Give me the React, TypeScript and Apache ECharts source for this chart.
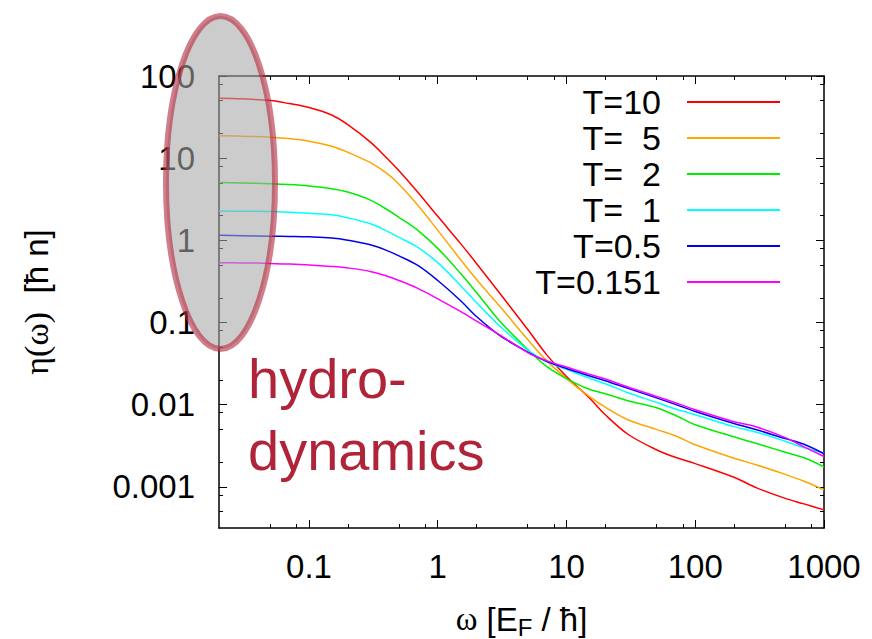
import React, { useEffect, useRef } from 'react';
import * as echarts from 'echarts';

// frequency omega [E_F / hbar]
const omega = [0.02, 0.03, 0.05, 0.07, 0.1, 0.15, 0.2, 0.3, 0.4, 0.5, 0.7, 1, 1.5, 2, 3, 5, 7, 10, 15, 20, 30, 50, 70, 100, 200, 300, 500, 700, 1000];

// viscosity eta(omega) [hbar n] for each temperature
const etaT10 = [53.5, 52.7, 50.3, 46.2, 41.3, 33.5, 25.6, 15.7, 10.14, 7.04, 3.85, 1.96, 0.919, 0.524, 0.232, 0.0821, 0.0407, 0.02195, 0.01217, 0.00755, 0.00437, 0.00283, 0.00229, 0.00192, 0.00131, 0.000972, 0.000724, 0.000621, 0.000525];
const etaT5 = [18.7, 18.55, 18.0, 17.3, 16.1, 14.0, 11.8, 8.81, 6.56, 4.82, 2.67, 1.324, 0.586, 0.334, 0.161, 0.0621, 0.0344, 0.0208, 0.01262, 0.00933, 0.00656, 0.00501, 0.00419, 0.00325, 0.00223, 0.00185, 0.00142, 0.00117, 0.000919];
const etaT2 = [5.05, 5.0, 4.89, 4.78, 4.59, 4.25, 3.87, 3.09, 2.39, 1.908, 1.324, 0.799, 0.398, 0.232, 0.106, 0.0469, 0.0293, 0.0208, 0.01542, 0.01362, 0.01119, 0.00919, 0.00743, 0.0057, 0.00407, 0.00337, 0.00264, 0.00226, 0.00175];
const etaT1 = [2.28, 2.26, 2.24, 2.195, 2.13, 2.05, 1.88, 1.589, 1.306, 1.088, 0.822, 0.535, 0.283, 0.175, 0.0919, 0.0462, 0.0334, 0.0269, 0.0211, 0.018, 0.014, 0.01067, 0.00887, 0.00755, 0.00541, 0.00462, 0.00359, 0.00299, 0.00258];
const etaT05 = [1.151, 1.141, 1.125, 1.116, 1.103, 1.07, 1.006, 0.882, 0.755, 0.647, 0.496, 0.325, 0.1855, 0.1183, 0.0704, 0.0437, 0.0337, 0.0276, 0.0225, 0.0196, 0.0158, 0.0121, 0.01009, 0.00828, 0.00591, 0.00495, 0.00387, 0.0033, 0.00253];
const etaT0151 = [0.535, 0.532, 0.524, 0.514, 0.503, 0.482, 0.462, 0.419, 0.369, 0.325, 0.26, 0.1945, 0.1366, 0.1043, 0.0714, 0.0431, 0.0344, 0.0287, 0.0235, 0.0206, 0.0164, 0.01262, 0.01058, 0.00869, 0.00622, 0.00535, 0.00398, 0.00307, 0.00234];

const seriesNames = ['T=10', 'T=  5', 'T=  2', 'T=  1', 'T=0.5', 'T=0.151'];
const seriesData = [etaT10, etaT5, etaT2, etaT1, etaT05, etaT0151];
const seriesColors = ['#ff0000', '#ffa500', '#00ee00', '#00ffff', '#0000ee', '#ff00ff'];

const xMajorTicks = [0.1, 1, 10, 100, 1000];
const xMinorTicks = [0.05, 0.08, 0.2, 0.5, 0.8, 2, 5, 8, 20, 50, 80, 200, 500, 800];
const yMajorTicks = [0.001, 0.01, 0.1, 1, 10, 100];
const yMinorTicks = [0.0005, 0.0008, 0.002, 0.005, 0.008, 0.02, 0.05, 0.08, 0.2, 0.5, 0.8, 2, 5, 8, 20, 50, 80];

const X_MIN = 0.02;
const X_MAX = 1000;
const Y_MIN = 0.000316;
const Y_MAX = 100;

const FONT = "'Liberation Sans', Arial, Helvetica, sans-serif";
const SERIF = "'Liberation Serif', 'DejaVu Serif', serif";

const fmt = (v: number) => String(parseFloat(Number(v).toPrecision(3)));

export default function App() {
  const ref = useRef<HTMLDivElement>(null);
  useEffect(() => {
    if (!ref.current) return;
    const chart = echarts.init(ref.current, undefined, { renderer: 'svg' });
    const axisLineStyle = { color: '#000', width: 1.5 };
    const mkX = (position: string, ticks: number[], len: number, showLine: boolean, extra: any = {}) => ({
      type: 'log', logBase: 10, min: X_MIN, max: X_MAX, position,
      splitLine: { show: false }, minorTick: { show: false },
      axisLine: { show: showLine, onZero: false, lineStyle: axisLineStyle },
      axisTick: { show: true, inside: true, length: len, customValues: ticks, lineStyle: { color: '#000', width: 1 } },
      axisLabel: { show: false },
      ...extra,
    });
    const mkY = (position: string, ticks: number[], len: number, showLine: boolean, extra: any = {}) => ({
      type: 'log', logBase: 10, min: Y_MIN, max: Y_MAX, position,
      splitLine: { show: false }, minorTick: { show: false },
      axisLine: { show: showLine, onZero: false, lineStyle: axisLineStyle },
      axisTick: { show: true, inside: true, length: len, customValues: ticks, lineStyle: { color: '#000', width: 1 } },
      axisLabel: { show: false },
      ...extra,
    });
    const option: any = {
      animation: false,
      backgroundColor: '#fff',
      grid: { left: 219, right: 48, top: 76, bottom: 111, containLabel: false, outerBoundsMode: 'none' },
      xAxis: [
        mkX('bottom', xMajorTicks, 8, true, {
          axisLabel: { show: true, customValues: xMajorTicks, formatter: fmt, fontSize: 33, fontFamily: FONT, color: '#000', margin: 22 },
          name: '{g|ω} [E{s|F} / ħ]',
          nameLocation: 'middle',
          nameGap: 71,
          nameTextStyle: {
            fontSize: 33, fontFamily: FONT, color: '#000', lineHeight: 40,
            rich: {
              g: { fontSize: 33, fontFamily: SERIF, color: '#000', lineHeight: 40 },
              s: { fontSize: 24, fontFamily: FONT, color: '#000', lineHeight: 24, verticalAlign: 'bottom' },
            },
          },
        }),
        mkX('top', xMajorTicks, 8, true),
        mkX('bottom', xMinorTicks, 4, false),
        mkX('top', xMinorTicks, 4, false),
      ],
      yAxis: [
        mkY('left', yMajorTicks, 8, true, {
          axisLabel: { show: true, customValues: yMajorTicks, formatter: fmt, fontSize: 33, fontFamily: FONT, color: '#000', margin: 24 },
          name: '{g|η(ω)}  [ħ n]',
          nameLocation: 'middle',
          nameGap: 166,
          nameRotate: 90,
          nameTextStyle: {
            fontSize: 33, fontFamily: FONT, color: '#000',
            rich: { g: { fontSize: 34, fontFamily: SERIF, color: '#000' } },
          },
        }),
        mkY('right', yMajorTicks, 8, true),
        mkY('left', yMinorTicks, 4, false),
        mkY('right', yMinorTicks, 4, false),
      ],
      legend: {
        show: true,
        orient: 'vertical',
        right: 91,
        top: 84,
        align: 'right',
        padding: 0,
        itemWidth: 93,
        itemHeight: 36,
        itemGap: 0,
        selectedMode: false,
        data: seriesNames,
        itemStyle: { color: 'transparent', borderColor: 'transparent', borderWidth: 0, opacity: 0 },
        lineStyle: { width: 2 },
        textStyle: { fontSize: 34, fontFamily: FONT, color: '#000', lineHeight: 36, padding: [0, 21, 0, 0] },
      },
      series: seriesNames.map((name, i) => ({
        type: 'line',
        name,
        xAxisIndex: 0,
        yAxisIndex: 0,
        data: omega.map((w, j) => [w, seriesData[i][j]]),
        symbol: 'none',
        showSymbol: false,
        smooth: 0.35,
        color: seriesColors[i],
        itemStyle: { color: seriesColors[i] },
        lineStyle: { width: 1.5, color: seriesColors[i] },
        z: 2 + i,
      })),
      graphic: [
        {
          type: 'ellipse',
          z: 100,
          shape: { cx: 220.5, cy: 182.5, rx: 54.5, ry: 166.5 },
          style: { fill: 'rgba(167,167,167,0.58)', stroke: 'rgba(180,40,60,0.6)', lineWidth: 6 },
        },
        {
          type: 'text',
          z: 100,
          x: 248,
          y: 342.6,
          style: {
            text: 'hydro-\ndynamics',
            fontSize: 56,
            fontFamily: FONT,
            fill: '#b0243a',
            lineHeight: 72,
            align: 'left',
            verticalAlign: 'top',
          },
        },
      ],
    };
    chart.setOption(option);
    return () => chart.dispose();
  }, []);
  return <div ref={ref} style={{ position: 'fixed', left: 0, top: 0, width: 872, height: 639 }} />;
}
